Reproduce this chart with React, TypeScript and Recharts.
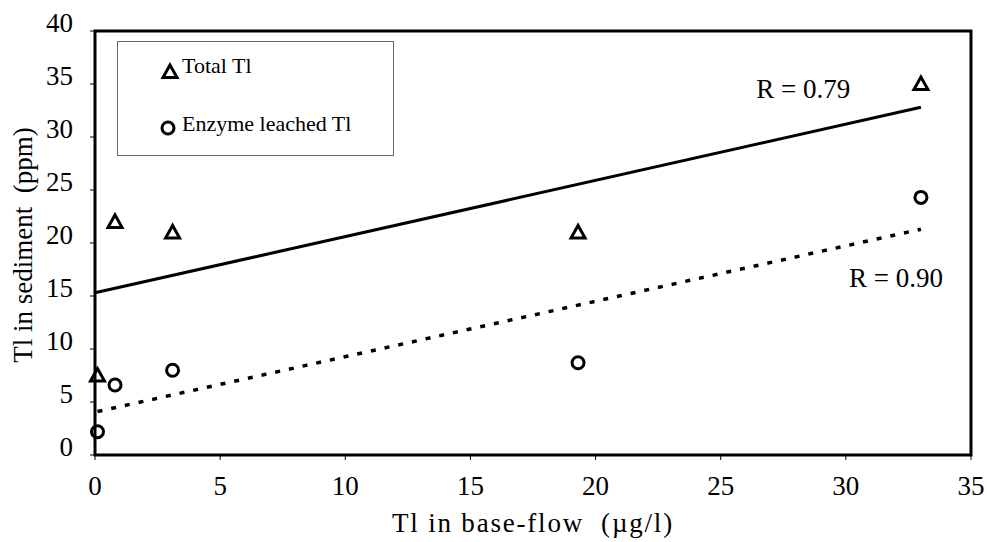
import { ScatterChart, Scatter, XAxis, YAxis, ReferenceArea, ReferenceDot } from 'recharts'

const serif = '"Liberation Serif", "Times New Roman", serif'

// measured pairs: Tl in base-flow (µg/l) vs Tl in sediment (ppm)
const baseFlow = [0.1, 0.8, 3.1, 19.3, 33]
const totalTl = [7.5, 22, 21, 21, 35]
const enzymeTl = [2.2, 6.6, 8, 8.7, 24.3]

// trendline end points
const totalFitX = [0, 33]
const totalFitY = [15.3, 32.8]
const enzymeFitX = [0.1, 33]
const enzymeFitY = [4.1, 21.3]

const xTicks = [0, 5, 10, 15, 20, 25, 30, 35]
const yTicks = [0, 5, 10, 15, 20, 25, 30, 35, 40]

const totalPts = baseFlow.map((x, i) => ({ x, y: totalTl[i] }))
const enzymePts = baseFlow.map((x, i) => ({ x, y: enzymeTl[i] }))
const totalFit = totalFitX.map((x, i) => ({ x, y: totalFitY[i] }))
const enzymeFit = enzymeFitX.map((x, i) => ({ x, y: enzymeFitY[i] }))

function Triangle({ cx, cy }: any) {
  const s = 7
  return (
    <polygon
      points={`${cx},${cy - s} ${cx - s},${cy + s * 0.8} ${cx + s},${cy + s * 0.8}`}
      fill="none"
      stroke="#000"
      strokeWidth={3}
    />
  )
}

function Ring({ cx, cy }: any) {
  return <circle cx={cx} cy={cy} r={6} fill="none" stroke="#000" strokeWidth={3} />
}

const NoDot = () => <g />

function XTick({ x, y, payload }: any) {
  return (
    <text x={x} y={y} dy={29} textAnchor="middle" fontFamily={serif} fontSize={27} fill="#000">
      {payload.value}
    </text>
  )
}

function YTick({ x, y, payload }: any) {
  return (
    <text x={x} y={y} dy={1} textAnchor="end" fontFamily={serif} fontSize={27} fill="#000">
      {payload.value}
    </text>
  )
}

function Legend() {
  const text = { position: 'absolute' as const, left: 64, fontFamily: serif, fontSize: 22, lineHeight: '26px', whiteSpace: 'nowrap' as const }
  return (
    <div
      style={{
        position: 'absolute',
        left: 117,
        top: 41,
        width: 277,
        height: 115,
        border: '1px solid #666',
        boxSizing: 'border-box',
        color: '#000',
      }}
    >
      <svg width={30} height={100} style={{ position: 'absolute', left: 38, top: 0 }}>
        <Triangle cx={14} cy={30} />
        <Ring cx={12} cy={86} />
      </svg>
      <span style={{ ...text, top: 11 }}>Total Tl</span>
      <span style={{ ...text, top: 69 }}>Enzyme leached Tl</span>
    </div>
  )
}

export default function App() {
  return (
    <div style={{ position: 'absolute', left: 0, top: 0, width: 987, height: 542, background: '#fff', color: '#000' }}>
      <ScatterChart width={987} height={542} margin={{ top: 31, right: 16, bottom: 27, left: 35 }}>
        <XAxis
          type="number"
          dataKey="x"
          domain={[0, 35]}
          ticks={xTicks}
          axisLine={false}
          tickLine={{ stroke: '#000' }}
          tickSize={5}
          tickMargin={6}
          tick={<XTick />}
          height={60}
        />
        <YAxis
          type="number"
          dataKey="y"
          domain={[0, 40]}
          ticks={yTicks}
          axisLine={false}
          tickLine={{ stroke: '#000' }}
          tickSize={5}
          tickMargin={17}
          tick={<YTick />}
          width={60}
        />
        <ReferenceArea x1={0} x2={35} y1={0} y2={40} fill="none" stroke="#000" strokeWidth={3} ifOverflow="visible" />
        <Scatter data={totalFit} line={{ stroke: '#000', strokeWidth: 3 }} shape={NoDot} isAnimationActive={false} />
        <Scatter
          data={enzymeFit}
          line={{ stroke: '#000', strokeWidth: 3.5, strokeDasharray: '5 9' }}
          shape={NoDot}
          isAnimationActive={false}
        />
        <Scatter data={totalPts} shape={Triangle} isAnimationActive={false} />
        <Scatter data={enzymePts} shape={Ring} isAnimationActive={false} />
        <ReferenceDot x={28.3} y={34.6} r={0} stroke="none" fill="none" ifOverflow="visible"
          label={{ value: 'R = 0.79', position: 'center', fontFamily: serif, fontSize: 27, fill: '#000' }} />
        <ReferenceDot x={32.0} y={16.8} r={0} stroke="none" fill="none" ifOverflow="visible"
          label={{ value: 'R = 0.90', position: 'center', fontFamily: serif, fontSize: 27, fill: '#000' }} />
      </ScatterChart>
      <div
        style={{
          position: 'absolute',
          left: 95,
          width: 876,
          top: 508,
          textAlign: 'center',
          fontFamily: serif,
          fontSize: 27,
          letterSpacing: 1.8,
          lineHeight: '30px',
          whiteSpace: 'pre',
        }}
      >
        {'Tl in base-flow  (µg/l)'}
      </div>
      <div
        style={{
          position: 'absolute',
          left: 23,
          top: 245,
          transform: 'translate(-50%, -50%) rotate(-90deg)',
          fontFamily: serif,
          fontSize: 27,
          lineHeight: '30px',
          whiteSpace: 'pre',
        }}
      >
        {'Tl in sediment  (ppm)'}
      </div>
      <Legend />
    </div>
  )
}
